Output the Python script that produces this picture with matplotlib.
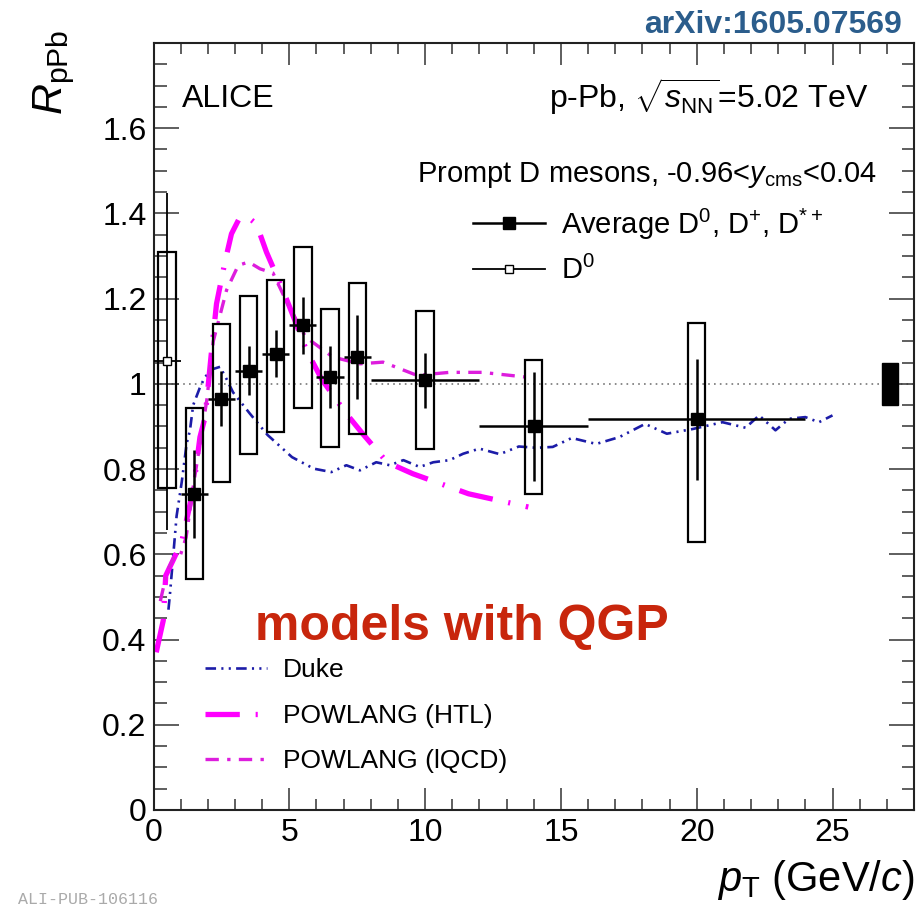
import matplotlib
matplotlib.use('Agg')
import matplotlib.pyplot as plt
from matplotlib.patches import Rectangle
from matplotlib.lines import Line2D
from matplotlib.ticker import MultipleLocator, FuncFormatter
import numpy as np

plt.rcParams['font.family'] = ['Liberation Sans', 'DejaVu Sans']
plt.rcParams['mathtext.fontset'] = 'custom'
plt.rcParams['mathtext.rm'] = 'Liberation Sans'
plt.rcParams['mathtext.it'] = 'Liberation Sans:italic'
plt.rcParams['mathtext.bf'] = 'Liberation Sans:bold'

# average D0, D+, D*+ R_pPb
pt = [1.5, 2.5, 3.5, 4.5, 5.5, 6.5, 7.5, 10.0, 14.0, 20.0]
pt_lo = [1, 2, 3, 4, 5, 6, 7, 8, 12, 16]
pt_hi = [2, 3, 4, 5, 6, 7, 8, 12, 16, 24]
rppb = [0.741, 0.965, 1.031, 1.071, 1.137, 1.016, 1.063, 1.008, 0.900, 0.917]
stat = [0.103, 0.065, 0.058, 0.056, 0.067, 0.072, 0.099, 0.064, 0.127, 0.142]
syst_up = [0.202, 0.176, 0.176, 0.172, 0.184, 0.160, 0.173, 0.164, 0.155, 0.226]
syst_dn = [0.200, 0.195, 0.195, 0.184, 0.193, 0.164, 0.180, 0.162, 0.158, 0.288]

# D0 only, lowest bin
d0_pt = [0.5]
d0_lo = [0.0]
d0_hi = [1.0]
d0_rppb = [1.053]
d0_stat = [0.396]
d0_syst_up = [0.256]
d0_syst_dn = [0.297]

# normalisation uncertainty
norm_unc = 0.05
norm_pt = 27.12

# model curves
duke_pt = [0.55, 0.61, 0.73, 0.85, 1.04, 1.22, 1.34, 1.46, 1.7, 1.89, 2.2, 2.45, 2.7, 2.93,
           3.55, 4.2, 5.1, 5.9, 6.55, 7.1, 7.6, 8.2, 8.7, 9.2, 9.8, 10.3, 10.9, 11.4, 12.0,
           12.75, 13.45, 14.1, 14.7, 15.4, 16.3, 17.15, 18.1, 18.9, 19.85, 20.95, 21.8,
           22.3, 22.9, 23.4, 24.0, 24.5, 25.0]
duke_raa = [0.47, 0.51, 0.60, 0.69, 0.77, 0.86, 0.89, 0.95, 0.99, 1.016, 1.035, 1.04, 1.01,
            0.98, 0.93, 0.88, 0.828, 0.801, 0.793, 0.809, 0.797, 0.816, 0.809, 0.821, 0.805,
            0.816, 0.821, 0.836, 0.848, 0.835, 0.853, 0.85, 0.852, 0.873, 0.859, 0.875,
            0.906, 0.883, 0.894, 0.91, 0.897, 0.926, 0.891, 0.918, 0.922, 0.91, 0.926]

htl_pt = [0.1, 0.36, 0.45, 0.75, 1.04, 1.46, 1.71, 1.9, 2.14, 2.32, 2.63, 2.87, 3.18, 3.5,
          3.79, 4.16, 4.77, 5.2, 5.63, 6.2, 7.1, 7.7, 8.6, 9.55, 11.6, 13.8]
htl_raa = [0.37, 0.445, 0.55, 0.59, 0.63, 0.75, 0.875, 0.922, 1.079, 1.188, 1.286, 1.352,
           1.391, 1.39, 1.375, 1.309, 1.219, 1.15, 1.079, 1.01, 0.93, 0.883, 0.816, 0.789,
           0.742, 0.711]

lqcd_pt = [0.25, 0.5, 0.8, 1.0, 1.2, 1.46, 1.96, 2.2, 2.69, 3.12, 3.5, 3.92, 4.4, 4.77, 5.0,
           5.6, 6.6, 7.6, 8.45, 9.7, 10.9, 12.1, 13.7]
lqcd_raa = [0.49, 0.56, 0.60, 0.60, 0.64, 0.758, 0.961, 1.10, 1.22, 1.278, 1.286, 1.27, 1.26,
            1.21, 1.18, 1.11, 1.063, 1.047, 1.051, 1.02, 1.027, 1.027, 1.016]

fig = plt.figure(figsize=(9.22, 9.10), dpi=100)
ax = fig.add_axes([0.1665, 0.1099, 0.8248, 0.8429])

ax.set_xlim(0, 28)
ax.set_ylim(0, 1.8)

# reference line at 1
ax.axhline(1.0, color='#777777', ls=(0, (1, 2.5)), lw=1.2, zorder=1)

# models
duke_col = '#1c1ca8'
htl_col = '#ff00ff'
lqcd_col = '#dd1ddd'
duke_dash = (4, 2, 0.8, 2, 0.8, 2)
htl_dash = (6.5, 3, 0.4, 3)
lqcd_dash = (4, 2.5, 1, 2.5)
ax.plot(duke_pt, duke_raa, color=duke_col, lw=1.9, dashes=duke_dash, zorder=2)
ax.plot(htl_pt, htl_raa, color=htl_col, lw=3.8, dashes=htl_dash, zorder=2)
ax.plot(lqcd_pt, lqcd_raa, color=lqcd_col, lw=2.4, dashes=lqcd_dash, zorder=2)

# systematic boxes
box_hw = 0.32
for x, y, su, sd in zip(pt, rppb, syst_up, syst_dn):
    ax.add_patch(Rectangle((x - box_hw, y - sd), 2 * box_hw, su + sd,
                           fill=False, ec='black', lw=1.6, zorder=3))
for x, y, su, sd in zip(d0_pt, d0_rppb, d0_syst_up, d0_syst_dn):
    ax.add_patch(Rectangle((x - box_hw, y - sd), 2 * box_hw, su + sd,
                           fill=False, ec='black', lw=1.6, zorder=3))

# data points with stat errors and bin widths
xerr = [np.subtract(pt, pt_lo), np.subtract(pt_hi, pt)]
ax.errorbar(pt, rppb, yerr=stat, xerr=xerr, fmt='s', color='black', ms=8,
            elinewidth=1.8, capsize=0, zorder=4)
d0_xerr = [np.subtract(d0_pt, d0_lo), np.subtract(d0_hi, d0_pt)]
ax.errorbar(d0_pt, d0_rppb, yerr=d0_stat, xerr=d0_xerr, fmt='s', color='black',
            mfc='white', mec='black', mew=1.0, ms=6, elinewidth=1.3, capsize=0, zorder=4)

# normalisation box
ax.add_patch(Rectangle((norm_pt - 0.28, 1 - norm_unc), 0.56, 2 * norm_unc,
                       fc='black', ec='black', zorder=3))

# axes style
ax.xaxis.set_major_locator(MultipleLocator(5))
ax.xaxis.set_minor_locator(MultipleLocator(1))
ax.yaxis.set_major_locator(MultipleLocator(0.2))
ax.yaxis.set_minor_locator(MultipleLocator(0.05))
ax.yaxis.set_major_formatter(FuncFormatter(lambda v, p: '' if v > 1.75 else '%g' % round(v, 2)))
ax.tick_params(which='both', direction='in', top=True, right=True, width=1.1,
               labelsize=23, color='#333333')
ax.tick_params(axis='x', which='major', length=16, pad=6)
ax.tick_params(axis='x', which='minor', length=8)
ax.tick_params(axis='y', which='major', length=18, pad=5)
ax.tick_params(axis='y', which='minor', length=9)
for s in ax.spines.values():
    s.set_linewidth(1.5)
    s.set_color('#222222')

ax.set_xlabel(r'$p_{\rm T}$ (GeV/$c$)', fontsize=30, loc='right')
ax.xaxis.set_label_coords(1.0, -0.062)
ax.set_ylabel(r'$R_{\rm pPb}$', fontsize=31, loc='top')
ax.yaxis.set_label_coords(-0.10, 1.018)

# labels
ax.text(0.037, 0.916, 'ALICE', transform=ax.transAxes, fontsize=23, va='baseline')
ax.text(0.9395, 0.915, r'p-Pb, $\sqrt{s_{\rm NN}}$=5.02 TeV', transform=ax.transAxes,
        fontsize=23, ha='right', va='baseline')
ax.text(0.951, 0.819, r'Prompt D mesons, -0.96<$y_{\rm cms}$<0.04', transform=ax.transAxes,
        fontsize=21, ha='right', va='baseline')

data_handles = [
    Line2D([], [], color='black', marker='s', ms=8, lw=1.8),
    Line2D([], [], color='black', marker='s', ms=6, mfc='white', mew=1.0, lw=1.3),
]
leg1 = ax.legend(data_handles, [r'Average D$^0$, D$^{+}$, D$^{*+}$', r'D$^0$'],
                 loc='upper left', bbox_to_anchor=(0.4205, 0.787), frameon=False,
                 fontsize=21, handlelength=2.45, handletextpad=0.55, labelspacing=0.5,
                 borderpad=0, borderaxespad=0)
ax.add_artist(leg1)

model_handles = [
    Line2D([], [], color=duke_col, lw=1.9, dashes=duke_dash),
    Line2D([], [], color=htl_col, lw=3.8, dashes=htl_dash),
    Line2D([], [], color=lqcd_col, lw=2.4, dashes=lqcd_dash),
]
ax.legend(model_handles, ['Duke', 'POWLANG (HTL)', 'POWLANG (lQCD)'],
          loc='upper left', bbox_to_anchor=(0.068, 0.198), frameon=False,
          fontsize=19, handlelength=2.35, handletextpad=0.6, labelspacing=0.82,
          borderpad=0, borderaxespad=0)

ax.text(0.1334, 0.2216, 'models with QGP', transform=ax.transAxes, fontsize=36,
        fontweight='bold', color='#c8260c', va='baseline')

fig.text(0.978, 0.9637, 'arXiv:1605.07569', fontsize=23, fontweight='bold',
         color='#2b5d8c', ha='right', va='baseline')
fig.text(0.02, 0.003, 'ALI-PUB-106116', fontsize=12, family='Liberation Mono',
         color='#aaaaaa', va='bottom')

fig.savefig('out.png', dpi=100)
